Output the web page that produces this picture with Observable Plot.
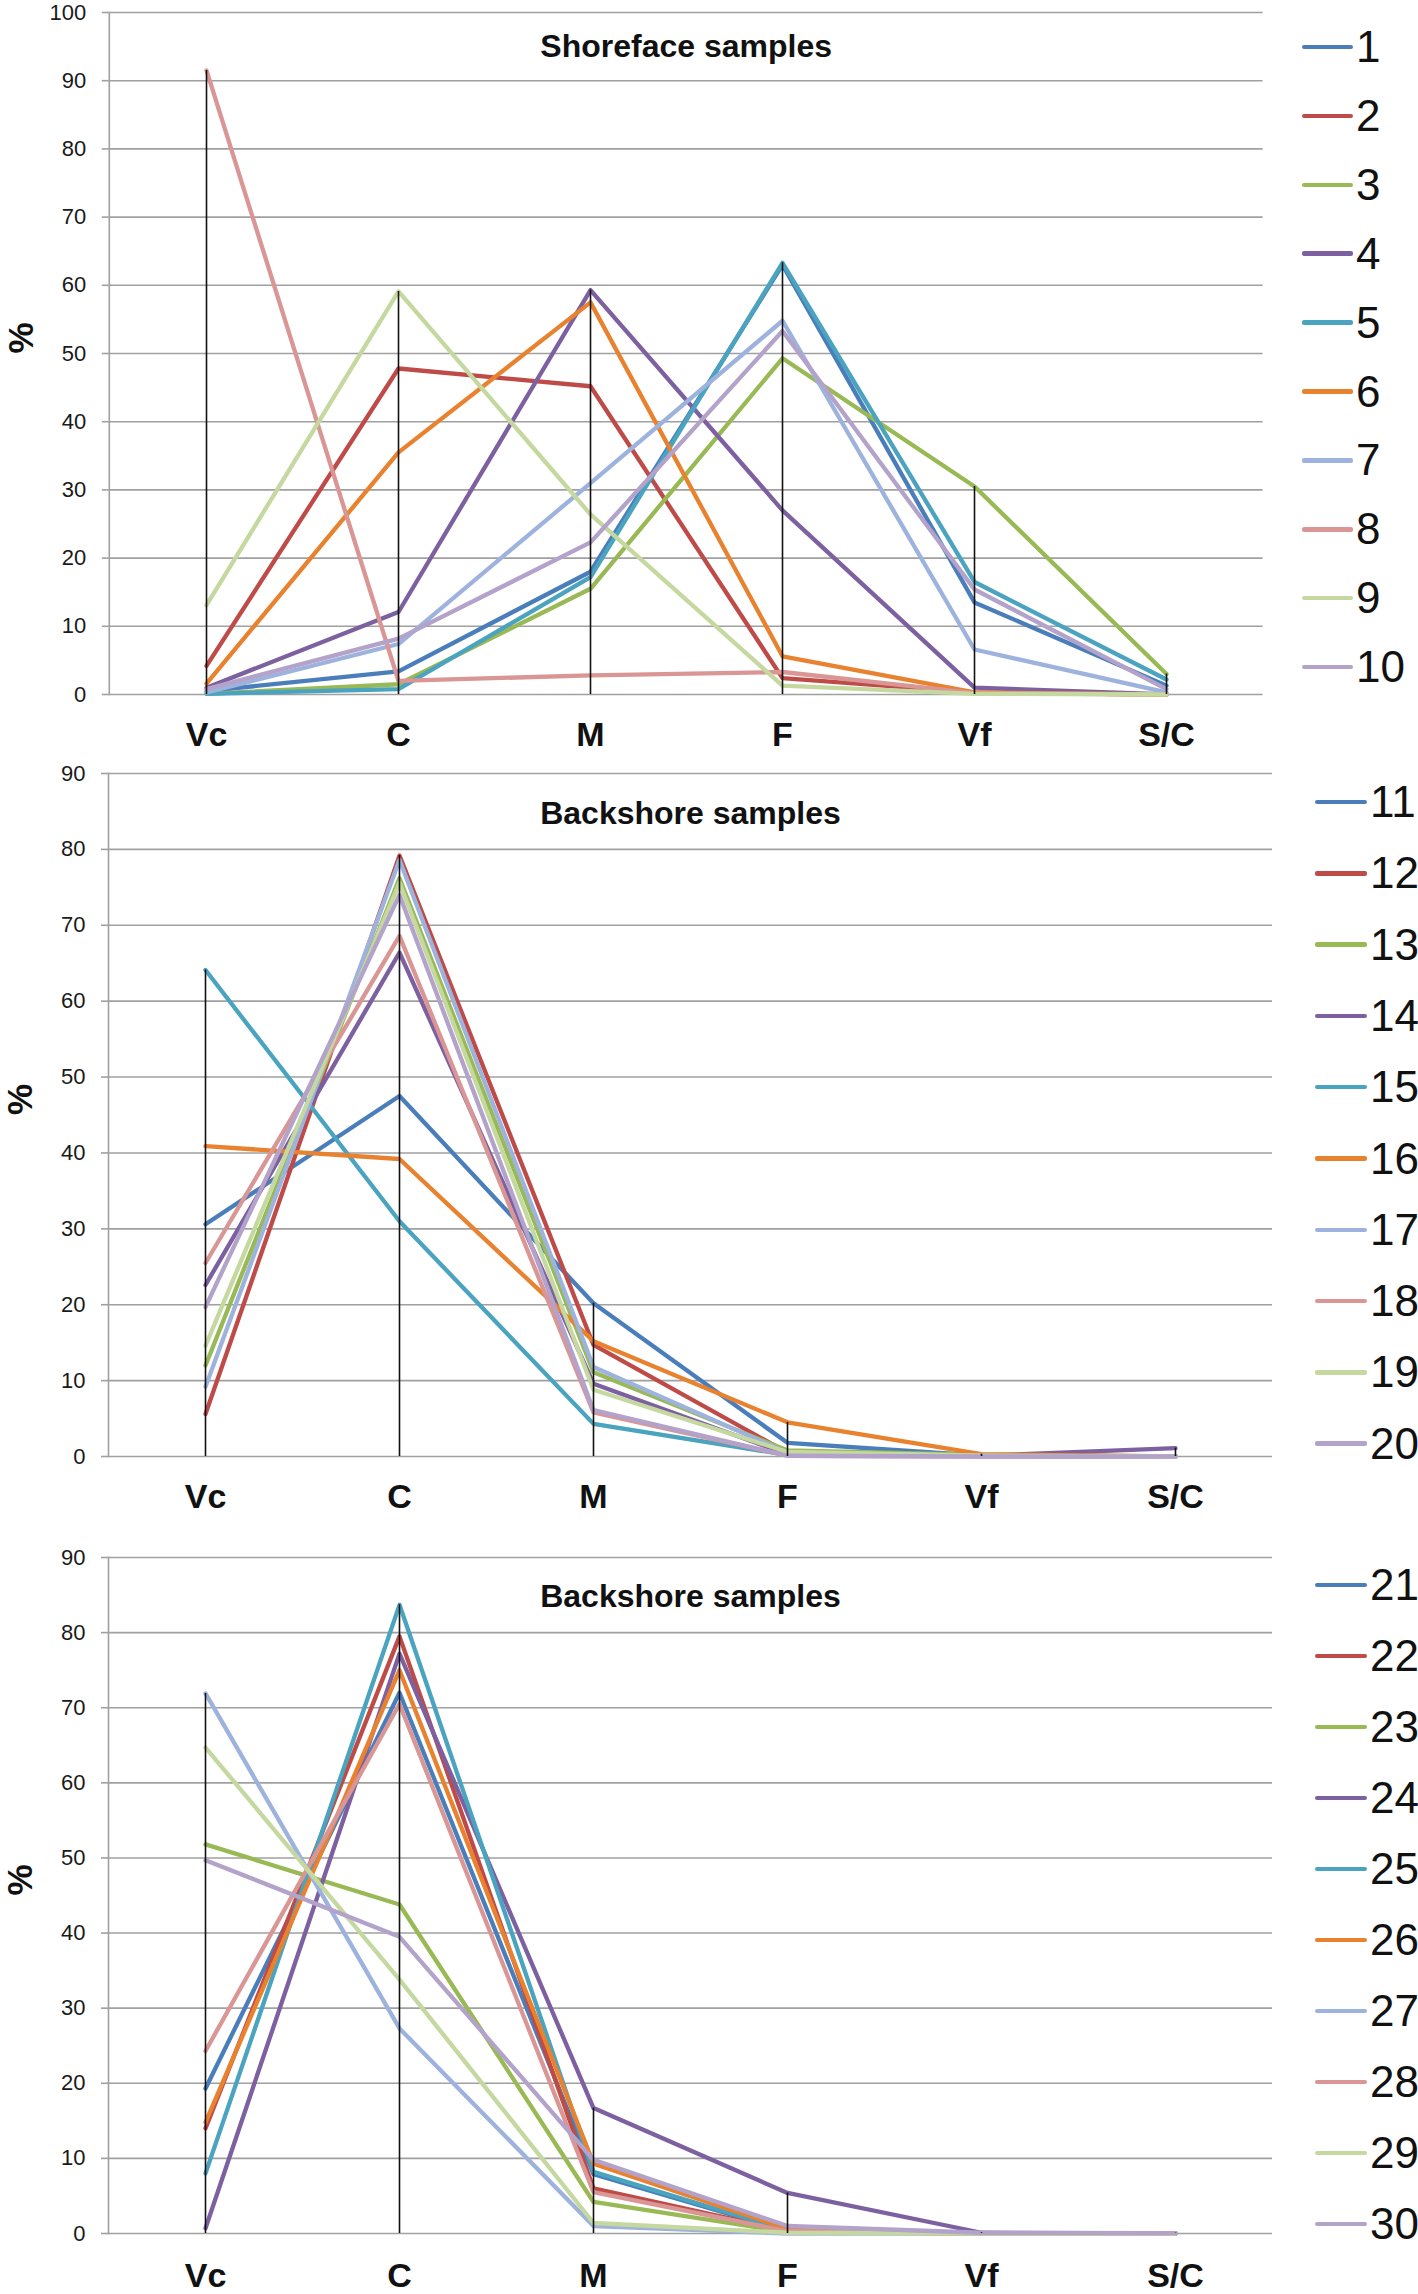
<!DOCTYPE html>
<html><head><meta charset="utf-8">
<script src="https://cdn.jsdelivr.net/npm/d3@7"></script>
<script src="https://cdn.jsdelivr.net/npm/@observablehq/plot@0.6"></script>
<style>
body{margin:0;background:#fff;}
#root{position:relative;width:1418px;height:2294px;overflow:hidden;font-family:"Liberation Sans",Arial,Helvetica,sans-serif;background:#fff;}
.panel{position:absolute;left:0;}
.item{position:absolute;display:flex;align-items:center;height:46px;transform:translateY(-50%);font-size:44px;line-height:46px;color:#111;white-space:nowrap;}
.sw{height:4.5px;border-radius:2px;margin-right:3px;}
</style></head><body><div id="root"></div>
<script>
const categories = ["Vc", "C", "M", "F", "Vf", "S/C"];
const yTicks100 = [0, 10, 20, 30, 40, 50, 60, 70, 80, 90, 100];
const yTicks90 = [0, 10, 20, 30, 40, 50, 60, 70, 80, 90];
const seriesColors = ["#4A7EBB", "#BE4B48", "#98B954", "#7D60A0", "#4AA3BF", "#E9822E", "#9DB3DD", "#D99694", "#C5D8A0", "#B3A2CA"];

const shorefaceTitle = "Shoreface samples";
const shorefaceSamples = ["1", "2", "3", "4", "5", "6", "7", "8", "9", "10"];
const shorefaceValues = [
  [0.5, 3.4, 18.0, 63.0, 13.5, 1.3],
  [4.2, 47.8, 45.2, 2.4, 0.3, 0],
  [0.1, 1.5, 15.5, 49.3, 30.5, 3.0],
  [1.0, 12.1, 59.3, 27.0, 1.0, 0],
  [0.1, 0.8, 17.2, 63.3, 16.5, 2.2],
  [1.6, 35.5, 57.5, 5.6, 0.3, 0],
  [0.3, 7.4, 31.0, 54.8, 6.6, 0.3],
  [91.5, 2.0, 2.8, 3.3, 0.2, 0],
  [13.1, 59.1, 26.4, 1.3, 0.1, 0],
  [0.8, 8.2, 22.3, 53.3, 15.4, 0.8]
];

const backshoreTitle = "Backshore samples";
const backshoreASamples = ["11", "12", "13", "14", "15", "16", "17", "18", "19", "20"];
const backshoreAValues = [
  [30.6, 47.5, 20.2, 1.8, 0.1, 0],
  [5.6, 79.2, 14.7, 0.5, 0.1, 0],
  [12.0, 76.2, 11.1, 0.8, 0.2, 0],
  [22.6, 66.4, 9.6, 0.3, 0.1, 1.1],
  [64.1, 31.0, 4.3, 0.2, 0.1, 0],
  [40.9, 39.2, 15.2, 4.5, 0.3, 0],
  [9.2, 78.6, 11.8, 0.5, 0.1, 0],
  [25.5, 68.6, 5.8, 0.1, 0, 0],
  [14.6, 75.6, 8.8, 0.6, 0.1, 0],
  [19.7, 74.0, 6.1, 0.1, 0, 0]
];

const backshoreBSamples = ["21", "22", "23", "24", "25", "26", "27", "28", "29", "30"];
const backshoreBValues = [
  [19.3, 72.0, 7.9, 0.3, 0, 0],
  [14.0, 79.5, 6.0, 0.3, 0, 0],
  [51.8, 43.8, 4.2, 0.2, 0, 0],
  [0.7, 77.2, 16.7, 5.4, 0.1, 0],
  [8.0, 83.7, 8.2, 0.4, 0, 0],
  [14.8, 75.0, 9.3, 0.6, 0, 0],
  [71.9, 27.3, 1.0, 0, 0, 0],
  [24.3, 70.5, 5.5, 0.3, 0, 0],
  [64.7, 33.8, 1.4, 0.1, 0, 0],
  [49.7, 39.5, 9.8, 1.0, 0.1, 0.05]
];

const FONT = '"Liberation Sans", Arial, Helvetica, sans-serif';
const GRID = "#a0a0a0";

const panels = [
  {title: shorefaceTitle, samples: shorefaceSamples, values: shorefaceValues, yTicks: yTicks100,
   top: 0, height: 760, mt: 12, mb: 66, ml: 108.8, mr: 155.4, titleDy: 34, xPad: 27,
   legendX: 1302, legendTop: 47, legendStep: 68.9, swatch: 51},
  {title: backshoreTitle, samples: backshoreASamples, values: backshoreAValues, yTicks: yTicks90,
   top: 760, height: 780, mt: 13, mb: 84, ml: 108, mr: 146, titleDy: 40, xPad: 27,
   legendX: 1315, legendTop: 802, legendStep: 71.3, swatch: 52},
  {title: backshoreTitle, samples: backshoreBSamples, values: backshoreBValues, yTicks: yTicks90,
   top: 1540, height: 754, mt: 17, mb: 61, ml: 108, mr: 146, titleDy: 39, xPad: 29,
   legendX: 1315, legendTop: 1585, legendStep: 71, swatch: 52}
];

const root = document.getElementById("root");

for (const p of panels) {
  const data = p.samples.flatMap((s, i) => categories.map((c, j) => ({sample: s, cat: c, value: p.values[i][j]})));
  const yMax = p.yTicks[p.yTicks.length - 1];
  const chart = Plot.plot({
    width: 1418,
    height: p.height,
    marginTop: p.mt,
    marginBottom: p.mb,
    marginLeft: p.ml,
    marginRight: p.mr,
    style: {fontFamily: FONT, background: "transparent", overflow: "visible"},
    x: {type: "point", domain: categories, padding: 0.5},
    y: {domain: [0, yMax]},
    color: {domain: p.samples, range: seriesColors},
    marks: [
      Plot.ruleY(p.yTicks, {stroke: GRID, strokeWidth: 1.6}),
      Plot.frame({anchor: "left", stroke: GRID, strokeWidth: 1.6}),
      Plot.axisY({ticks: p.yTicks, tickSize: 7, tickPadding: 16, fontSize: 22, stroke: GRID, strokeWidth: 1.6, fill: "#1a1a1a", tickFormat: d => String(d), label: null}),
      Plot.axisX({tickSize: 0, tickPadding: p.xPad, fontSize: 34, fontWeight: "bold", fill: "#111", label: null}),
      Plot.line(data, {x: "cat", y: "value", z: "sample", stroke: "sample", strokeWidth: 4.3, strokeLinejoin: "round", strokeLinecap: "round"}),
      Plot.ruleX(data, Plot.groupX({y: "max"}, {x: "cat", y: "value", stroke: "#111", strokeWidth: 1.6})),
      Plot.text([p.title], {frameAnchor: "top", dy: p.titleDy, fontSize: 32, fontWeight: "bold", fill: "#111", lineAnchor: "middle"}),
      Plot.text(["%"], {frameAnchor: "left", dx: -88, rotate: -90, fontSize: 35, fontWeight: "bold", fill: "#111"})
    ]
  });
  const wrap = document.createElement("div");
  wrap.className = "panel";
  wrap.style.top = p.top + "px";
  wrap.appendChild(chart);
  root.appendChild(wrap);

  p.samples.forEach((s, i) => {
    const item = document.createElement("div");
    item.className = "item";
    item.style.left = p.legendX + "px";
    item.style.top = (p.legendTop + i * p.legendStep) + "px";
    const sw = document.createElement("span");
    sw.className = "sw";
    sw.style.width = p.swatch + "px";
    sw.style.background = seriesColors[i];
    const lab = document.createElement("span");
    lab.textContent = s;
    item.appendChild(sw);
    item.appendChild(lab);
    root.appendChild(item);
  });
}
</script>
</body></html>
